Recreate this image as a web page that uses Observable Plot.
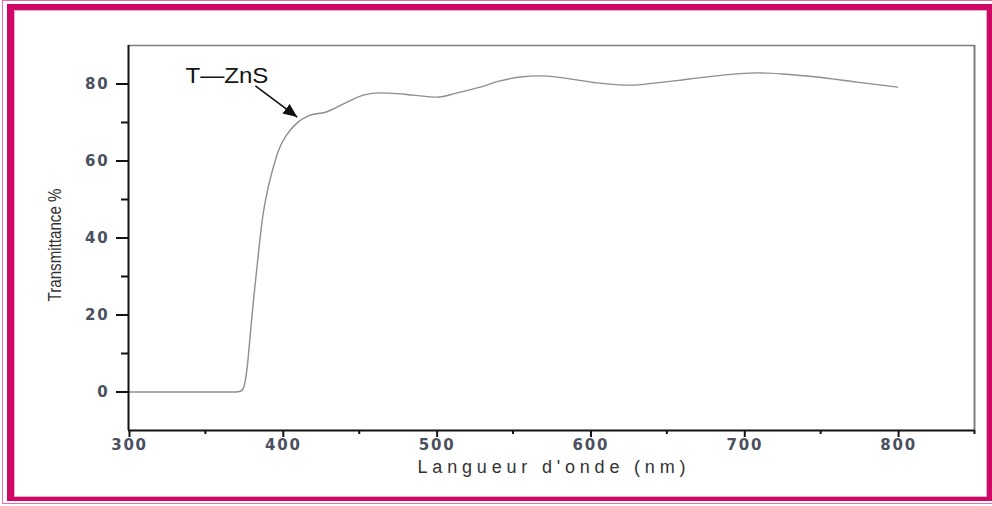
<!DOCTYPE html>
<html>
<head>
<meta charset="utf-8">
<script src="https://cdn.jsdelivr.net/npm/d3@7"></script>
<script src="https://cdn.jsdelivr.net/npm/@observablehq/plot@0.6"></script>
<style>
  html, body { margin: 0; padding: 0; background: #fff; }
  #wrap { position: relative; width: 992px; height: 506px; overflow: hidden; }
  #wrap svg { position: absolute; left: 0; top: 0; }
  .frame-thin { position: absolute; left: 2px; top: 0; width: 1000px; height: 504px; box-sizing: border-box; border: 1px solid #e46fa5; }
  .frame-thick { position: absolute; left: 7px; top: 4px; width: 985px; height: 497px; box-sizing: border-box;
    border-style: solid; border-color: #cf0868; border-width: 6px 5px 4px 7px; box-shadow: inset 0 0 0 1px #f2a9c9; }
  svg [aria-label="x-axis tick label"], svg [aria-label="y-axis tick label"] {
    font-family: "DejaVu Sans", sans-serif !important; font-weight: bold !important; font-size: 15px !important; letter-spacing: 1.8px; fill: #4a5060;
  }
  svg [aria-label="x-axis label"], svg [aria-label="y-axis label"] {
    font-family: "Liberation Sans", Arial, sans-serif !important; font-size: 18px !important; fill: #333; font-weight: normal;
  }
</style>
</head>
<body>
<div id="wrap"></div>
<script>
// ---- data ----
const wavelength = [300, 340, 369.5, 372.7, 374.7, 377.1, 379.2, 381.2, 383.8, 387, 390.3, 393.5, 397.4, 403.2, 409.7, 416.9, 429, 442.2, 452.6, 463.6, 474.7, 485.1, 500.6, 513.6, 528.6, 541.6, 554.5, 567.5, 582.5, 604.5, 626, 643.5, 664.9, 686.4, 708.4, 725.3, 747.4, 773.4, 800];
const transmittance = [0, 0, 0, 0.2, 1.0, 6.2, 15.1, 23.6, 33.5, 44.8, 52.2, 57.4, 62.6, 67, 69.9, 71.7, 72.8, 75.3, 77.1, 77.7, 77.5, 77.1, 76.6, 77.7, 79.2, 80.8, 81.8, 82.1, 81.6, 80.3, 79.7, 80.3, 81.3, 82.3, 82.9, 82.6, 81.8, 80.5, 79.2];

const xMajorTicks = [300, 400, 500, 600, 700, 800];
const xMinorTicks = [350, 450, 550, 650, 750, 850];
const yMajorTicks = [0, 20, 40, 60, 80];
const yMinorTicks = [10, 30, 50, 70];
const xDomain = [300, 850];
const yDomain = [-10, 90];
const xLabel = "Langueur d'onde (nm)";
const yLabel = "Transmittance %";

const annX = [337];
const annY = [82.1];
const annText = ["T\u2014ZnS"];
const arrowX1 = [382.5];
const arrowY1 = [79.5];
const arrowX2 = [409.7];
const arrowY2 = [71.4];

const series = wavelength.map((w, i) => ({w, t: transmittance[i]}));

const filledArrow = (color, context) =>
  d3.create("svg:marker")
    .attr("viewBox", "-14 -6 14 12")
    .attr("markerWidth", 14)
    .attr("markerHeight", 12)
    .attr("markerUnits", "userSpaceOnUse")
    .attr("orient", "auto")
    .attr("fill", color)
    .attr("stroke", "none")
    .call(m => m.append("path").attr("d", "M-14,-6L0,0L-14,6Z"))
    .node();

const chart = Plot.plot({
  width: 992,
  height: 506,
  marginLeft: 128,
  marginRight: 18,
  marginTop: 45,
  marginBottom: 76,
  x: {domain: xDomain},
  y: {domain: yDomain},
  style: {background: "transparent", overflow: "visible", fontFamily: "Liberation Sans, Arial, sans-serif"},
  marks: [
    Plot.line(series, {x: "w", y: "t", stroke: "#8e8e8e", strokeWidth: 1.4, curve: "monotone-x"}),
    Plot.ruleY([yDomain[1]], {stroke: "#7d7d7d", strokeWidth: 1.6}),
    Plot.ruleX([xDomain[1]], {stroke: "#7d7d7d", strokeWidth: 2}),
    Plot.axisX(xMinorTicks, {tickSize: 4, tickFormat: () => "", label: null, stroke: "#111", strokeWidth: 2}),
    Plot.axisX(xMajorTicks, {tickSize: 7, tickPadding: 2, dx: 1, strokeWidth: 2, stroke: "#111", fontSize: 15,
      tickFormat: d => String(d), label: xLabel, labelAnchor: "center", labelOffset: 42, labelArrow: "none"}),
    Plot.axisY(yMinorTicks, {tickSize: 7, tickFormat: () => "", label: null, stroke: "#111", strokeWidth: 2}),
    Plot.axisY(yMajorTicks, {tickSize: 12, tickPadding: 7, strokeWidth: 2, stroke: "#111", fontSize: 15,
      tickFormat: d => String(d), label: yLabel, labelAnchor: "center", labelOffset: 80, labelArrow: "none"}),
    Plot.ruleX([xDomain[0]], {stroke: "#111", strokeWidth: 2}),
    Plot.ruleY([yDomain[0]], {stroke: "#111", strokeWidth: 2}),
    Plot.text(annText, {x: annX, y: annY, text: d => d, textAnchor: "start", fontSize: 22,
      fontFamily: "Liberation Sans, Arial, sans-serif", fill: "#151515"}),
    Plot.link(annText, {x1: arrowX1, y1: arrowY1, x2: arrowX2, y2: arrowY2, stroke: "#111", strokeWidth: 1.6, markerEnd: filledArrow})
  ]
});

document.getElementById("wrap").appendChild(chart);
const s = d3.select(chart);
s.select('[aria-label="x-axis label"] text').attr("textLength", 268).attr("lengthAdjust", "spacing");
s.select('[aria-label="y-axis label"] text').attr("textLength", 113).attr("lengthAdjust", "spacingAndGlyphs");
s.select('[aria-label="text"] text').attr("textLength", 83).attr("lengthAdjust", "spacingAndGlyphs");
const yLab = s.select('[aria-label="y-axis label"]');
yLab.attr("transform", ((yLab.attr("transform") || "") + " translate(0,7)").trim());

const thin = document.createElement("div"); thin.className = "frame-thin";
const thick = document.createElement("div"); thick.className = "frame-thick";
document.getElementById("wrap").appendChild(thin);
document.getElementById("wrap").appendChild(thick);
</script>
</body>
</html>
